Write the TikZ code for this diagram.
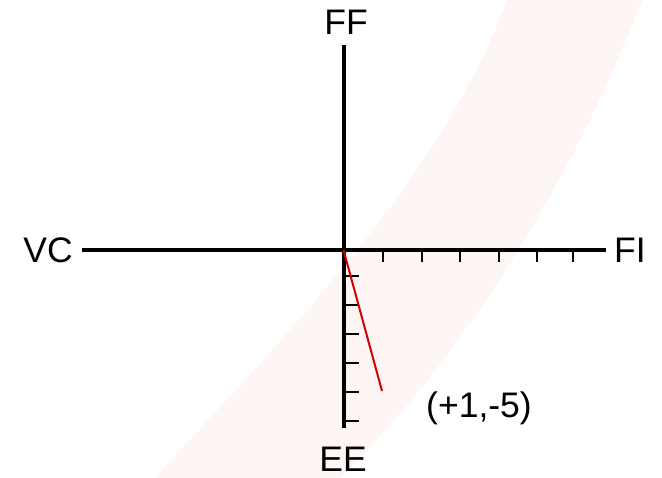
\documentclass[tikz,border=0pt]{standalone}
\usepackage{fontspec}
\setmainfont{Liberation Sans}
\definecolor{wm}{RGB}{254,245,245}
\definecolor{redline}{RGB}{210,0,0}
\begin{document}
\begin{tikzpicture}[x=1pt,y=-1pt,
  axis/.style={line width=4pt,black},
  tick/.style={line width=2pt,black},
  lbl/.style={inner sep=0pt,font=\fontsize{35.5}{40}\selectfont},
  slopeline/.style={line width=2pt,redline}]
\useasboundingbox (0,0) rectangle (662,478);
% faint watermark band
\fill[wm] (155,478) .. controls (290,330) and (440,180) .. (507,0)
  -- (642,0) .. controls (585,150) and (480,340) .. (340,478) -- cycle;
% axis ends
\coordinate (O) at (343.5,250);
\coordinate (L) at (82,250);
\coordinate (R) at (606,250);
\coordinate (T) at (343.5,45);
\coordinate (B) at (343.5,428);
\coordinate (P) at (382,391);
% ticks
\foreach \x in {383,421.5,460,499,537,573}
  \draw[tick] (\x,250) -- (\x,262);
\foreach \y in {276,305,334,363,392,421.5}
  \draw[tick] (343.5,\y) -- (359,\y);
% axes
\draw[axis] (L) -- (R);
\draw[axis] (T) -- (B);
% red line
\draw[slopeline] (O) -- (P);
% labels
\node[lbl] (ff) at (346,22) {FF};
\node[lbl] (ee) at (343,459) {EE};
\node[lbl] (vc) at (48,250) {VC};
\node[lbl] (fi) at (630,250) {FI};
\node[lbl] (pt) at (479,408) {(+1,-5)};
\end{tikzpicture}
\end{document}
